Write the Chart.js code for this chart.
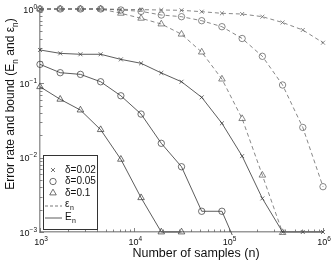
<!DOCTYPE html>
<html>
<head>
<meta charset="utf-8">
<script src="https://cdn.jsdelivr.net/npm/chart.js@4.4.0/dist/chart.umd.min.js"></script>
<style>
  html, body { margin: 0; padding: 0; background: #fff; }
  #wrap { width: 332px; height: 261px; }
</style>
</head>
<body>
<div id="wrap"><canvas id="chart" width="332" height="261"></canvas></div>
<script>
// sample sizes n (x axis)
const samples = [1000, 1638, 2683, 4394, 7197, 11788, 19307, 31623, 51795, 84834, 138950, 227585, 372759, 610540, 1000000];

// measured error rate E_n
const errD002 = [0.281, 0.253, 0.246, 0.246, 0.210, 0.186, 0.138, 0.105, 0.0648, 0.029, 0.0105, 0.00283, 0.001, 0.001, 0.001];
const errD005 = [0.180, 0.139, 0.132, 0.105, 0.068, 0.0386, 0.0156, 0.00755, 0.0019, 0.0019, 0.00045, null, null, null, null];
const errD01  = [0.090, 0.061, 0.0437, 0.0238, 0.0095, 0.00289, 0.001, 0.001, null, null, null, null, null, null, null];

// bound eps_n
const bndD002 = [1, 1, 1, 1, 0.99, 0.98, 0.97, 0.96, 0.92, 0.875, 0.856, 0.788, 0.658, 0.522, 0.352];
const bndD005 = [1, 1, 1, 1, 0.97, 0.93, 0.83, 0.788, 0.696, 0.578, 0.401, 0.231, 0.095, 0.0255, 0.00407];
const bndD01  = [1, 1, 1, 1, 0.875, 0.75, 0.628, 0.458, 0.263, 0.114, 0.0335, 0.00581, 0.00098, null, null];

const deltaLabels = ['\u03b4=0.02', '\u03b4=0.05', '\u03b4=0.1'];
const markers = ['crossRot', 'circle', 'triangle'];
const markerSizes = [2.8, 3.2, 3.8];

// major ticks: value and exponent shown as 10^exp
const xTicks = [1e3, 1e4, 1e5, 1e6];
const xTickExps = ['3', '4', '5', '6'];
const yTicks = [1e-3, 1e-2, 1e-1, 1];
const yTickExps = ['\u22123', '\u22122', '\u22121', '0'];

const xTitle = [['Number of samples (n)', false]];
const yTitle = [['Error rate and bound (E', false], ['n', true], [' and \u03b5', false], ['n', true], [')', false]];

const INK = '#333';
const DASH_INK = '#555';
const FONT = '"Liberation Sans", Arial, sans-serif';

function pts(vals) {
    return samples.map(function(n, i) { return {x: n, y: vals[i]}; });
}

function minorTicks(majors) {
    let out = [];
    for (let i = 0; i < majors.length; i++) {
        out.push(majors[i]);
        if (i < majors.length - 1) {
            for (let m = 2; m <= 9; m++) out.push(majors[i] * m);
        }
    }
    return out;
}

let datasets = [];
[errD002, errD005, errD01].forEach(function(vals, i) {
    datasets.push({
        label: 'E ' + deltaLabels[i],
        data: pts(vals),
        borderColor: INK,
        borderWidth: 0.8,
        pointStyle: markers[i],
        pointRadius: markerSizes[i],
        pointBorderColor: INK,
        pointBorderWidth: 0.7,
        pointBackgroundColor: 'rgba(0,0,0,0)',
        spanGaps: false,
        clip: {left: 6, right: 6, top: 6, bottom: 3}
    });
});
[bndD002, bndD005, bndD01].forEach(function(vals, i) {
    datasets.push({
        label: 'eps ' + deltaLabels[i],
        data: pts(vals),
        borderColor: DASH_INK,
        borderWidth: 0.7,
        borderDash: [4, 3],
        pointStyle: markers[i],
        pointRadius: markerSizes[i],
        pointBorderColor: DASH_INK,
        pointBorderWidth: 0.7,
        pointBackgroundColor: 'rgba(0,0,0,0)',
        spanGaps: false,
        clip: {left: 6, right: 6, top: 6, bottom: 3}
    });
});

// text made of runs, some of them subscripts; returns total width
function richText(ctx, runs, x, y, size, measureOnly) {
    let w = 0;
    runs.forEach(function(r) {
        const s = r[1] ? size * 0.7 : size;
        ctx.font = s + 'px ' + FONT;
        if (!measureOnly) ctx.fillText(r[0], x + w, y + (r[1] ? size * 0.3 : 0));
        w += ctx.measureText(r[0]).width;
    });
    return w;
}

// 10 with a raised exponent
function powerLabel(ctx, exp, x, y, align) {
    ctx.font = '9px ' + FONT;
    const wb = ctx.measureText('10').width;
    ctx.font = '6.5px ' + FONT;
    const we = ctx.measureText(exp).width;
    let left = align === 'right' ? x - wb - we : x - (wb + we) / 2;
    ctx.font = '9px ' + FONT;
    ctx.fillText('10', left, y);
    ctx.font = '6.5px ' + FONT;
    ctx.fillText(exp, left + wb, y - 4);
}

// inward tick marks, tick labels and axis titles
const axisDecor = {
    id: 'axisDecor',
    afterDatasetsDraw: function(chart) {
        const ctx = chart.ctx;
        const area = chart.chartArea;
        const xs = chart.scales.x, ys = chart.scales.y;
        ctx.save();
        ctx.strokeStyle = '#666';
        ctx.lineWidth = 0.8;
        xs.ticks.forEach(function(t) {
            const px = Math.round(xs.getPixelForValue(t.value)) + 0.5;
            const len = xTicks.indexOf(t.value) >= 0 ? 4 : 2.5;
            ctx.beginPath();
            ctx.moveTo(px, area.bottom);
            ctx.lineTo(px, area.bottom - len);
            ctx.stroke();
        });
        ys.ticks.forEach(function(t) {
            const py = Math.round(ys.getPixelForValue(t.value)) + 0.5;
            const len = yTicks.indexOf(t.value) >= 0 ? 4 : 2.5;
            ctx.beginPath();
            ctx.moveTo(area.left, py);
            ctx.lineTo(area.left + len, py);
            ctx.stroke();
        });

        ctx.fillStyle = '#111';
        ctx.textBaseline = 'alphabetic';
        xTicks.forEach(function(v, i) {
            powerLabel(ctx, xTickExps[i], xs.getPixelForValue(v) + 1, area.bottom + 12.5, 'center');
        });
        yTicks.forEach(function(v, i) {
            powerLabel(ctx, yTickExps[i], area.left - 3, ys.getPixelForValue(v) + 3.5, 'right');
        });

        // x title
        const tw = richText(ctx, xTitle, 0, 0, 12.5, true);
        richText(ctx, xTitle, 196 - tw / 2, area.bottom + 25, 12.5, false);
        // y title, rotated
        const yw = richText(ctx, yTitle, 0, 0, 12, true);
        ctx.translate(14, 104);
        ctx.rotate(-Math.PI / 2);
        richText(ctx, yTitle, -yw / 2, 0, 12, false);
        ctx.restore();
    }
};

// legend box in lower left corner of the plot
const boxLegend = {
    id: 'boxLegend',
    afterDraw: function(chart) {
        const ctx = chart.ctx;
        const area = chart.chartArea;
        const x0 = area.left + 3, y0 = area.bottom - 77, w = 54, h = 74;
        ctx.save();
        ctx.fillStyle = '#fff';
        ctx.fillRect(x0, y0, w, h);
        ctx.strokeStyle = INK;
        ctx.lineWidth = 1;
        ctx.strokeRect(x0 + 0.5, y0 + 0.5, w, h);
        ctx.font = '10px ' + FONT;
        ctx.textBaseline = 'middle';
        for (let i = 0; i < 3; i++) {
            const yy = y0 + 15 + i * 11.5;
            ctx.fillStyle = 'rgba(0,0,0,0)';
            ctx.strokeStyle = INK;
            ctx.lineWidth = 0.7;
            Chart.helpers.drawPoint(ctx, {
                pointStyle: markers[i], radius: markerSizes[i], borderWidth: 0.7
            }, x0 + 10, yy);
            ctx.fillStyle = '#111';
            ctx.font = '10px ' + FONT;
            ctx.fillText(deltaLabels[i], x0 + 22, yy);
        }
        // dashed = bound, solid = error
        let yy = y0 + 51;
        ctx.strokeStyle = DASH_INK;
        ctx.lineWidth = 0.8;
        ctx.setLineDash([3, 2]);
        ctx.beginPath(); ctx.moveTo(x0 + 2, yy); ctx.lineTo(x0 + 19, yy); ctx.stroke();
        ctx.setLineDash([]);
        ctx.font = '10px ' + FONT;
        ctx.fillText('\u03b5', x0 + 22, yy - 2);
        ctx.font = '7px ' + FONT;
        ctx.fillText('n', x0 + 27, yy + 2);
        yy = y0 + 63;
        ctx.strokeStyle = INK;
        ctx.beginPath(); ctx.moveTo(x0 + 2, yy); ctx.lineTo(x0 + 19, yy); ctx.stroke();
        ctx.font = '10px ' + FONT;
        ctx.fillText('E', x0 + 22, yy - 1);
        ctx.font = '7px ' + FONT;
        ctx.fillText('n', x0 + 29, yy + 3);
        ctx.restore();
    }
};

new Chart(document.getElementById('chart'), {
    type: 'line',
    data: {datasets: datasets},
    plugins: [axisDecor, boxLegend],
    options: {
        responsive: false,
        animation: false,
        devicePixelRatio: 1,
        layout: {padding: {left: 40, right: 9, top: 9, bottom: 29}},
        plugins: {legend: {display: false}, tooltip: {enabled: false}},
        scales: {
            x: {
                type: 'logarithmic',
                min: 1e3,
                max: 1e6,
                afterBuildTicks: function(scale) {
                    scale.ticks = minorTicks(xTicks).map(function(v) { return {value: v}; });
                },
                afterFit: function(scale) { scale.height = 0; },
                grid: {display: false},
                border: {display: true, color: '#999', width: 1.5},
                ticks: {display: false},
                title: {display: false}
            },
            y: {
                type: 'logarithmic',
                min: 1e-3,
                max: 1,
                afterBuildTicks: function(scale) {
                    scale.ticks = minorTicks(yTicks).map(function(v) { return {value: v}; });
                },
                afterFit: function(scale) { scale.width = 0; },
                grid: {display: false},
                border: {display: true, color: '#999', width: 1.5},
                ticks: {display: false},
                title: {display: false}
            }
        }
    }
});
</script>
</body>
</html>
